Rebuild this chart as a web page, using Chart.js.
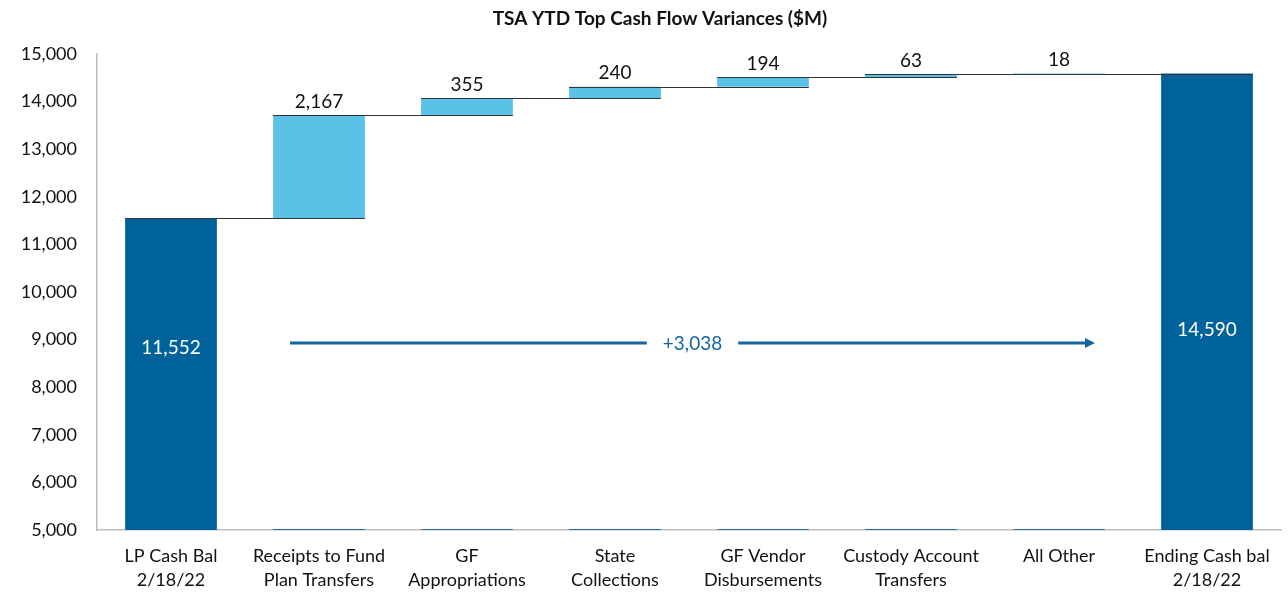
<!DOCTYPE html>
<html>
<head>
<meta charset="utf-8">
<script src="https://cdn.jsdelivr.net/npm/chart.js@4.4.1/dist/chart.umd.min.js"></script>
<style>
  html, body { margin: 0; padding: 0; background: #fff; }
  #wrap { width: 1288px; height: 592px; }
</style>
</head>
<body>
<div id="wrap"><canvas id="chart"></canvas></div>
<script>
// Datos del gráfico
const chartTitle = "TSA YTD Top Cash Flow Variances ($M)";
const categories = [
    ["LP Cash Bal", "2/18/22"],
    ["Receipts to Fund", "Plan Transfers"],
    ["GF", "Appropriations"],
    ["State", "Collections"],
    ["GF Vendor", "Disbursements"],
    ["Custody Account", "Transfers"],
    ["All Other"],
    ["Ending Cash bal", "2/18/22"]
];
const startBalance = 11552;
const changes = [2167, 355, 240, 194, 63, 18];
const endBalance = 14590;
const totalChange = "+3,038";
const yTicks = [5000, 15000, 1000]; // min, max, paso

const darkBlue = "#00629B";
const lightBlue = "#5BC2E7";
const font = "Lato, 'Open Sans', sans-serif";

// Construir las barras flotantes [inicio, fin]
const totals = [];
const steps = [];
const bases = [];
let running = startBalance;
totals.push([yTicks[0], startBalance]);
steps.push(null);
bases.push(null);
changes.forEach(c => {
    steps.push([running, running + c]);
    bases.push([yTicks[0], running]);
    totals.push(null);
    running += c;
});
totals.push([yTicks[0], endBalance]);
steps.push(null);
bases.push(null);

// Niveles de las líneas conectoras (fin de cada barra)
const levels = [startBalance];
running = startBalance;
changes.forEach(c => { running += c; levels.push(running); });

// Plugin para título, conectores, etiquetas y flecha
const waterfallPlugin = {
    id: "waterfall",
    afterDatasetsDraw(chart) {
        const ctx = chart.ctx;
        const x = chart.scales.x;
        const y = chart.scales.y;
        const metaTot = chart.getDatasetMeta(1);
        const half = metaTot.data[0].width / 2;

        ctx.save();
        // Título
        ctx.fillStyle = "#111";
        ctx.font = "bold 19px " + font;
        ctx.textAlign = "center";
        ctx.textBaseline = "middle";
        ctx.fillText(chartTitle, 660, 19);

        // Líneas conectoras
        ctx.strokeStyle = "#333";
        ctx.lineWidth = 1.2;
        levels.forEach((lv, i) => {
            const py = Math.round(y.getPixelForValue(lv)) + 0.5;
            ctx.beginPath();
            ctx.moveTo(x.getPixelForValue(i) - half, py);
            ctx.lineTo(x.getPixelForValue(i + 1) + half, py);
            ctx.stroke();
        });

        // Etiquetas de las variaciones
        ctx.fillStyle = "#111";
        ctx.font = "19px " + font;
        ctx.textAlign = "center";
        ctx.textBaseline = "bottom";
        changes.forEach((c, i) => {
            const top = y.getPixelForValue(steps[i + 1][1]);
            ctx.fillText(c.toLocaleString("en-US"), x.getPixelForValue(i + 1), top - 4);
        });

        // Etiquetas dentro de las barras totales
        ctx.fillStyle = "#fff";
        ctx.textBaseline = "middle";
        ctx.fillText(startBalance.toLocaleString("en-US"), x.getPixelForValue(0), y.getPixelForValue(8820));
        ctx.fillText(endBalance.toLocaleString("en-US"), x.getPixelForValue(7), y.getPixelForValue(9200));

        // Flecha de la variación total
        const ay = y.getPixelForValue(8930);
        const ax0 = x.getPixelForValue(1) - 29;
        const ax1 = x.getPixelForValue(6) + 36;
        const cx = (ax0 + ax1) / 2;
        const tw = ctx.measureText(totalChange).width;
        ctx.strokeStyle = "#1565A0";
        ctx.fillStyle = "#1565A0";
        ctx.lineWidth = 3;
        ctx.beginPath();
        ctx.moveTo(ax0, ay);
        ctx.lineTo(cx - tw / 2 - 16, ay);
        ctx.moveTo(cx + tw / 2 + 16, ay);
        ctx.lineTo(ax1 - 8, ay);
        ctx.stroke();
        ctx.beginPath();
        ctx.moveTo(ax1, ay);
        ctx.lineTo(ax1 - 10, ay - 5);
        ctx.lineTo(ax1 - 10, ay + 5);
        ctx.closePath();
        ctx.fill();
        ctx.textAlign = "center";
        ctx.fillText(totalChange, cx, ay + 1);
        ctx.restore();
    }
};

const ctx = document.getElementById("chart").getContext("2d");
new Chart(ctx, {
    type: "bar",
    data: {
        labels: categories,
        datasets: [
            {
                label: "Variación",
                data: steps,
                backgroundColor: lightBlue,
                grouped: false,
                barPercentage: 0.62,
                categoryPercentage: 1
            },
            {
                label: "Total",
                data: totals,
                backgroundColor: darkBlue,
                grouped: false,
                barPercentage: 0.62,
                categoryPercentage: 1
            },
            {
                label: "Base",
                data: bases,
                backgroundColor: "rgba(0,0,0,0)",
                borderColor: "#2A6F9E",
                borderWidth: { top: 0, left: 0, right: 0, bottom: 1 },
                borderSkipped: false,
                grouped: false,
                barPercentage: 0.62,
                categoryPercentage: 1
            }
        ]
    },
    options: {
        responsive: true,
        maintainAspectRatio: false,
        animation: false,
        layout: { padding: { left: 0, right: 7, top: 54, bottom: 0 } },
        plugins: {
            legend: { display: false },
            tooltip: { enabled: false },
            title: { display: false }
        },
        scales: {
            x: {
                grid: { display: false, drawTicks: false },
                border: { display: true, color: "#BDBDBD", width: 1.5 },
                ticks: {
                    color: "#111",
                    font: { family: font, size: 18, lineHeight: 1.33 },
                    padding: 14,
                    maxRotation: 0,
                    autoSkip: false
                },
                afterFit(scale) { scale.height = 62; }
            },
            y: {
                min: yTicks[0],
                max: yTicks[1],
                grid: { display: false, drawTicks: false },
                border: { display: true, color: "#BDBDBD", width: 1.5 },
                ticks: {
                    stepSize: yTicks[2],
                    color: "#111",
                    font: { family: font, size: 18 },
                    padding: 20,
                    callback: v => v.toLocaleString("en-US")
                },
                afterFit(scale) { scale.width = 97; }
            }
        }
    },
    plugins: [waterfallPlugin]
});
</script>
</body>
</html>
